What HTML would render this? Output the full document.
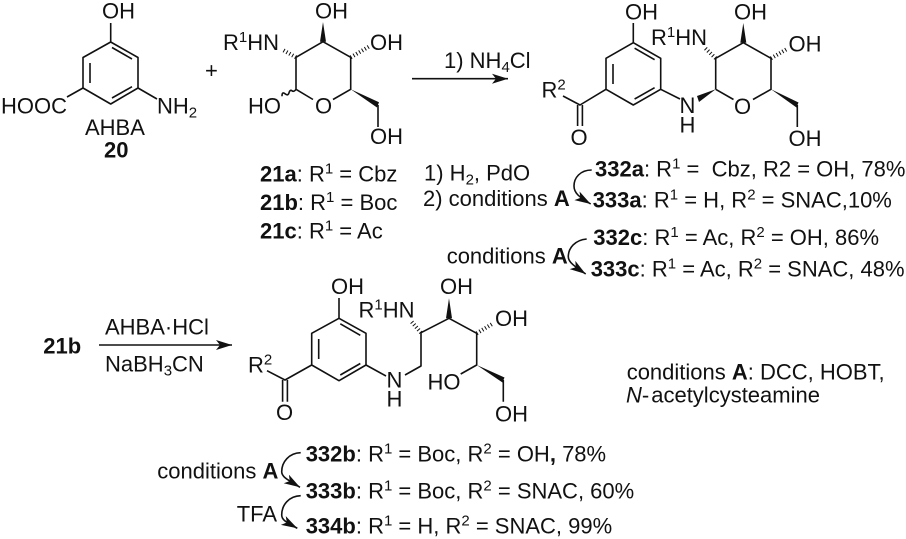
<!DOCTYPE html>
<html><head><meta charset="utf-8"><style>
html,body{margin:0;padding:0;background:#fff;width:906px;height:539px;overflow:hidden}
svg{display:block}
text{font-family:"Liberation Sans",sans-serif;font-size:22px;fill:#111}
.b{font-weight:bold}
.s{stroke:#111;stroke-width:1.6;fill:none;stroke-linejoin:round}
.h{stroke:#111;stroke-width:4;fill:none;stroke-dasharray:1 2.3}
.f{fill:#111;stroke:none}
</style></head><body>
<svg width="906" height="539" viewBox="0 0 906 539" xmlns="http://www.w3.org/2000/svg">
<defs>
<marker id="a" markerUnits="userSpaceOnUse" markerWidth="18" markerHeight="12" refX="16" refY="5" orient="auto"><path d="M0 0L16 5L0 10L4 5z" fill="#111"/></marker>
</defs>

<!-- AHBA -->
<path class="s" d="M110.7 42L138 57.5V88L110.7 104L83 88V57.5Z"/>
<path class="s" d="M112 47.500L132 59M90 63V83M112 98L132 86.700M110.700 42V23M83 88L67 97M138 88L157 99"/>
<text x="102" y="18.500">OH</text>
<text x="1" y="113.300">HOOC</text>
<text x="157" y="113.300">NH<tspan font-size="15" dy="4">2</tspan></text>
<text x="85" y="135">AHBA</text>
<text class="b" x="104" y="157.300">20</text>
<text x="205" y="78">+</text>

<!-- sugar 21 -->
<path class="s" d="M323 41.700L350.700 57.300V89.300L333 99.500M313 99.500L296 89.300V57.300L323 41.700M378 105V127M296 89.300q-2 3 -4 1.500t-3 2t-4 1t-3 2.500"/>
<path class="f" d="M320 41.700L323 22L326 41.700Z"/>
<path class="f" d="M350.700 89.300L379 102.300L377 107.500Z"/>
<path class="h" d="M350.700 57.300L370 46"/>
<path class="h" d="M296 57.300L283 50"/>
<text x="315" y="18.500">OH</text>
<text x="223" y="50">R<tspan font-size="15" dy="-8">1</tspan><tspan dy="8">HN</tspan></text>
<text x="370" y="50">OH</text>
<text x="248" y="113.300">HO</text>
<text x="315" y="113.300">O</text>
<text x="370" y="144">OH</text>

<text x="260" y="181.700"><tspan class="b">21a</tspan>: R<tspan font-size="15" dy="-8">1</tspan><tspan dy="8"> = Cbz</tspan></text>
<text x="260" y="210"><tspan class="b">21b</tspan>: R<tspan font-size="15" dy="-8">1</tspan><tspan dy="8"> = Boc</tspan></text>
<text x="260" y="238.300"><tspan class="b">21c</tspan>: R<tspan font-size="15" dy="-8">1</tspan><tspan dy="8"> = Ac</tspan></text>

<text x="424" y="180.700">1) H<tspan font-size="15" dy="4">2</tspan><tspan dy="-4">, PdO</tspan></text>
<text x="423" y="206">2) conditions <tspan class="b">A</tspan></text>

<!-- arrow 1 -->
<text x="444" y="68">1) NH<tspan font-size="15" dy="4">4</tspan><tspan dy="-4">Cl</tspan></text>
<path class="s" d="M412 78.700H508" marker-end="url(#a)"/>

<!-- product 1 -->
<path class="s" d="M633.300 42.700L660.700 58.300V89.300L633.300 105L606 89.300V58.300Z"/>
<path class="s" d="M634.600 48.200L654.600 59.700M613 64V84M634.600 99L654.600 87.700M633.300 42.700V23M606 89.300L580 105L563 96M577.600 105V126M582.400 105V126M660.700 89.300L680 99"/>
<path class="s" d="M715.700 89.300V58.300L743.300 42.700L771 58.300V89.300L753 99.500M733.500 99.500L715.700 89.300M797.300 105V127"/>
<path class="f" d="M715.700 89.300L697 96L699 102Z"/>
<path class="f" d="M740.300 42.700L743.300 23L746.300 42.700Z"/>
<path class="f" d="M771 89.300L798.500 102.500L796.500 107.500Z"/>
<path class="h" d="M771 58.300L787 49"/>
<path class="h" d="M715.700 58.300L704 47"/>
<text x="625" y="19.300">OH</text>
<text x="651" y="45">R<tspan font-size="15" dy="-8">1</tspan><tspan dy="8">HN</tspan></text>
<text x="734" y="19.300">OH</text>
<text x="788.500" y="51.700">OH</text>
<text x="541.500" y="97.300">R<tspan font-size="15" dy="-8">2</tspan></text>
<text x="570.500" y="145">O</text>
<text x="679.500" y="113">N</text>
<text x="679.500" y="132.700">H</text>
<text x="734" y="114">O</text>
<text x="788.500" y="146">OH</text>

<!-- list right -->
<text x="595" y="176.700"><tspan class="b">332a</tspan>: R<tspan font-size="15" dy="-8">1</tspan><tspan dy="8"> =&#160; Cbz, R2 = OH, 78%</tspan></text>
<text x="592.700" y="207.300"><tspan class="b">333a</tspan>: R<tspan font-size="15" dy="-8">1</tspan><tspan dy="8"> = H, R</tspan><tspan font-size="15" dy="-8">2</tspan><tspan dy="8"> = SNAC,10%</tspan></text>
<text x="593.300" y="245"><tspan class="b">332c</tspan>: R<tspan font-size="15" dy="-8">1</tspan><tspan dy="8"> = Ac, R</tspan><tspan font-size="15" dy="-8">2</tspan><tspan dy="8"> = OH, 86%</tspan></text>
<text x="590.700" y="276.700"><tspan class="b">333c</tspan>: R<tspan font-size="15" dy="-8">1</tspan><tspan dy="8"> = Ac, R</tspan><tspan font-size="15" dy="-8">2</tspan><tspan dy="8"> = SNAC, 48%</tspan></text>
<text x="446.700" y="263.300">conditions <tspan class="b">A</tspan></text>
<path class="s" d="M591.700 170C580 170 574 178 574 186C574 193 579 197 590.700 204" marker-end="url(#a)"/>
<path class="s" d="M586.700 239C575 240 568.300 248 568.300 256.700C568.300 262 574 266 585.700 274" marker-end="url(#a)"/>

<!-- reaction 2 -->
<text class="b" x="43.300" y="353.300">21b</text>
<text x="105" y="334.300">AHBA·HCl</text>
<text x="105" y="371.700">NaBH<tspan font-size="15" dy="4">3</tspan><tspan dy="-4">CN</tspan></text>
<path class="s" d="M99 345H232" marker-end="url(#a)"/>

<!-- product 2 -->
<path class="s" d="M339 318.300L366 333.300V365L339 380.700L311.700 365V333.300Z"/>
<path class="s" d="M340.300 323.800L360.300 335.300M318.700 339V359M340.300 375L360.300 363.500M339 318.300V298M311.700 365L285 380L267 370.700M282.600 380V401.700M287.400 380V401.700M366 365L386 376"/>
<path class="s" d="M405 375L421 366V332.700L449 318.300L476.700 333.300V365L460.700 374M503.300 380V401.700"/>
<path class="f" d="M446 318.300L449 298.300L452 318.300Z"/>
<path class="f" d="M476.700 365L504.500 377.500L502.500 382.500Z"/>
<path class="h" d="M476.700 333.300L493 323.500"/>
<path class="h" d="M421 332.700L411 321"/>
<text x="331" y="294">OH</text>
<text x="358.500" y="317.700">R<tspan font-size="15" dy="-8">1</tspan><tspan dy="8">HN</tspan></text>
<text x="440" y="294">OH</text>
<text x="495" y="326">OH</text>
<text x="427.500" y="389.300">HO</text>
<text x="495" y="421.700">OH</text>
<text x="248" y="372.700">R<tspan font-size="15" dy="-8">2</tspan></text>
<text x="276" y="420">O</text>
<text x="386.500" y="387.700">N</text>
<text x="386.500" y="406.700">H</text>

<text x="626.700" y="379.300">conditions <tspan class="b">A</tspan>: DCC, HOBT,</text>
<text x="626" y="402.700"><tspan font-style="italic">N</tspan>-<tspan dx="2">acetylcysteamine</tspan></text>

<!-- list bottom -->
<text x="305.700" y="461.700"><tspan class="b">332b</tspan>: R<tspan font-size="15" dy="-8">1</tspan><tspan dy="8"> = Boc, R</tspan><tspan font-size="15" dy="-8">2</tspan><tspan dy="8"> = OH<tspan class="b">,</tspan> 78%</tspan></text>
<text x="305.700" y="498.300"><tspan class="b">333b</tspan>: R<tspan font-size="15" dy="-8">1</tspan><tspan dy="8"> = Boc, R</tspan><tspan font-size="15" dy="-8">2</tspan><tspan dy="8"> = SNAC, 60%</tspan></text>
<text x="305.700" y="533.300"><tspan class="b">334b</tspan>: R<tspan font-size="15" dy="-8">1</tspan><tspan dy="8"> = H, R</tspan><tspan font-size="15" dy="-8">2</tspan><tspan dy="8"> = SNAC, 99%</tspan></text>
<text x="157.300" y="478.300">conditions <tspan class="b">A</tspan></text>
<text x="236.700" y="521.700">TFA</text>
<path class="s" d="M300.700 452.700C289 453 281.700 462 281.700 471.700C281.700 477 288 480 300 487.300" marker-end="url(#a)"/>
<path class="s" d="M300.700 495.700C289 496 281.700 505 281.700 515C281.700 520 286 522 297.300 528.300" marker-end="url(#a)"/>
</svg>
</body></html>
